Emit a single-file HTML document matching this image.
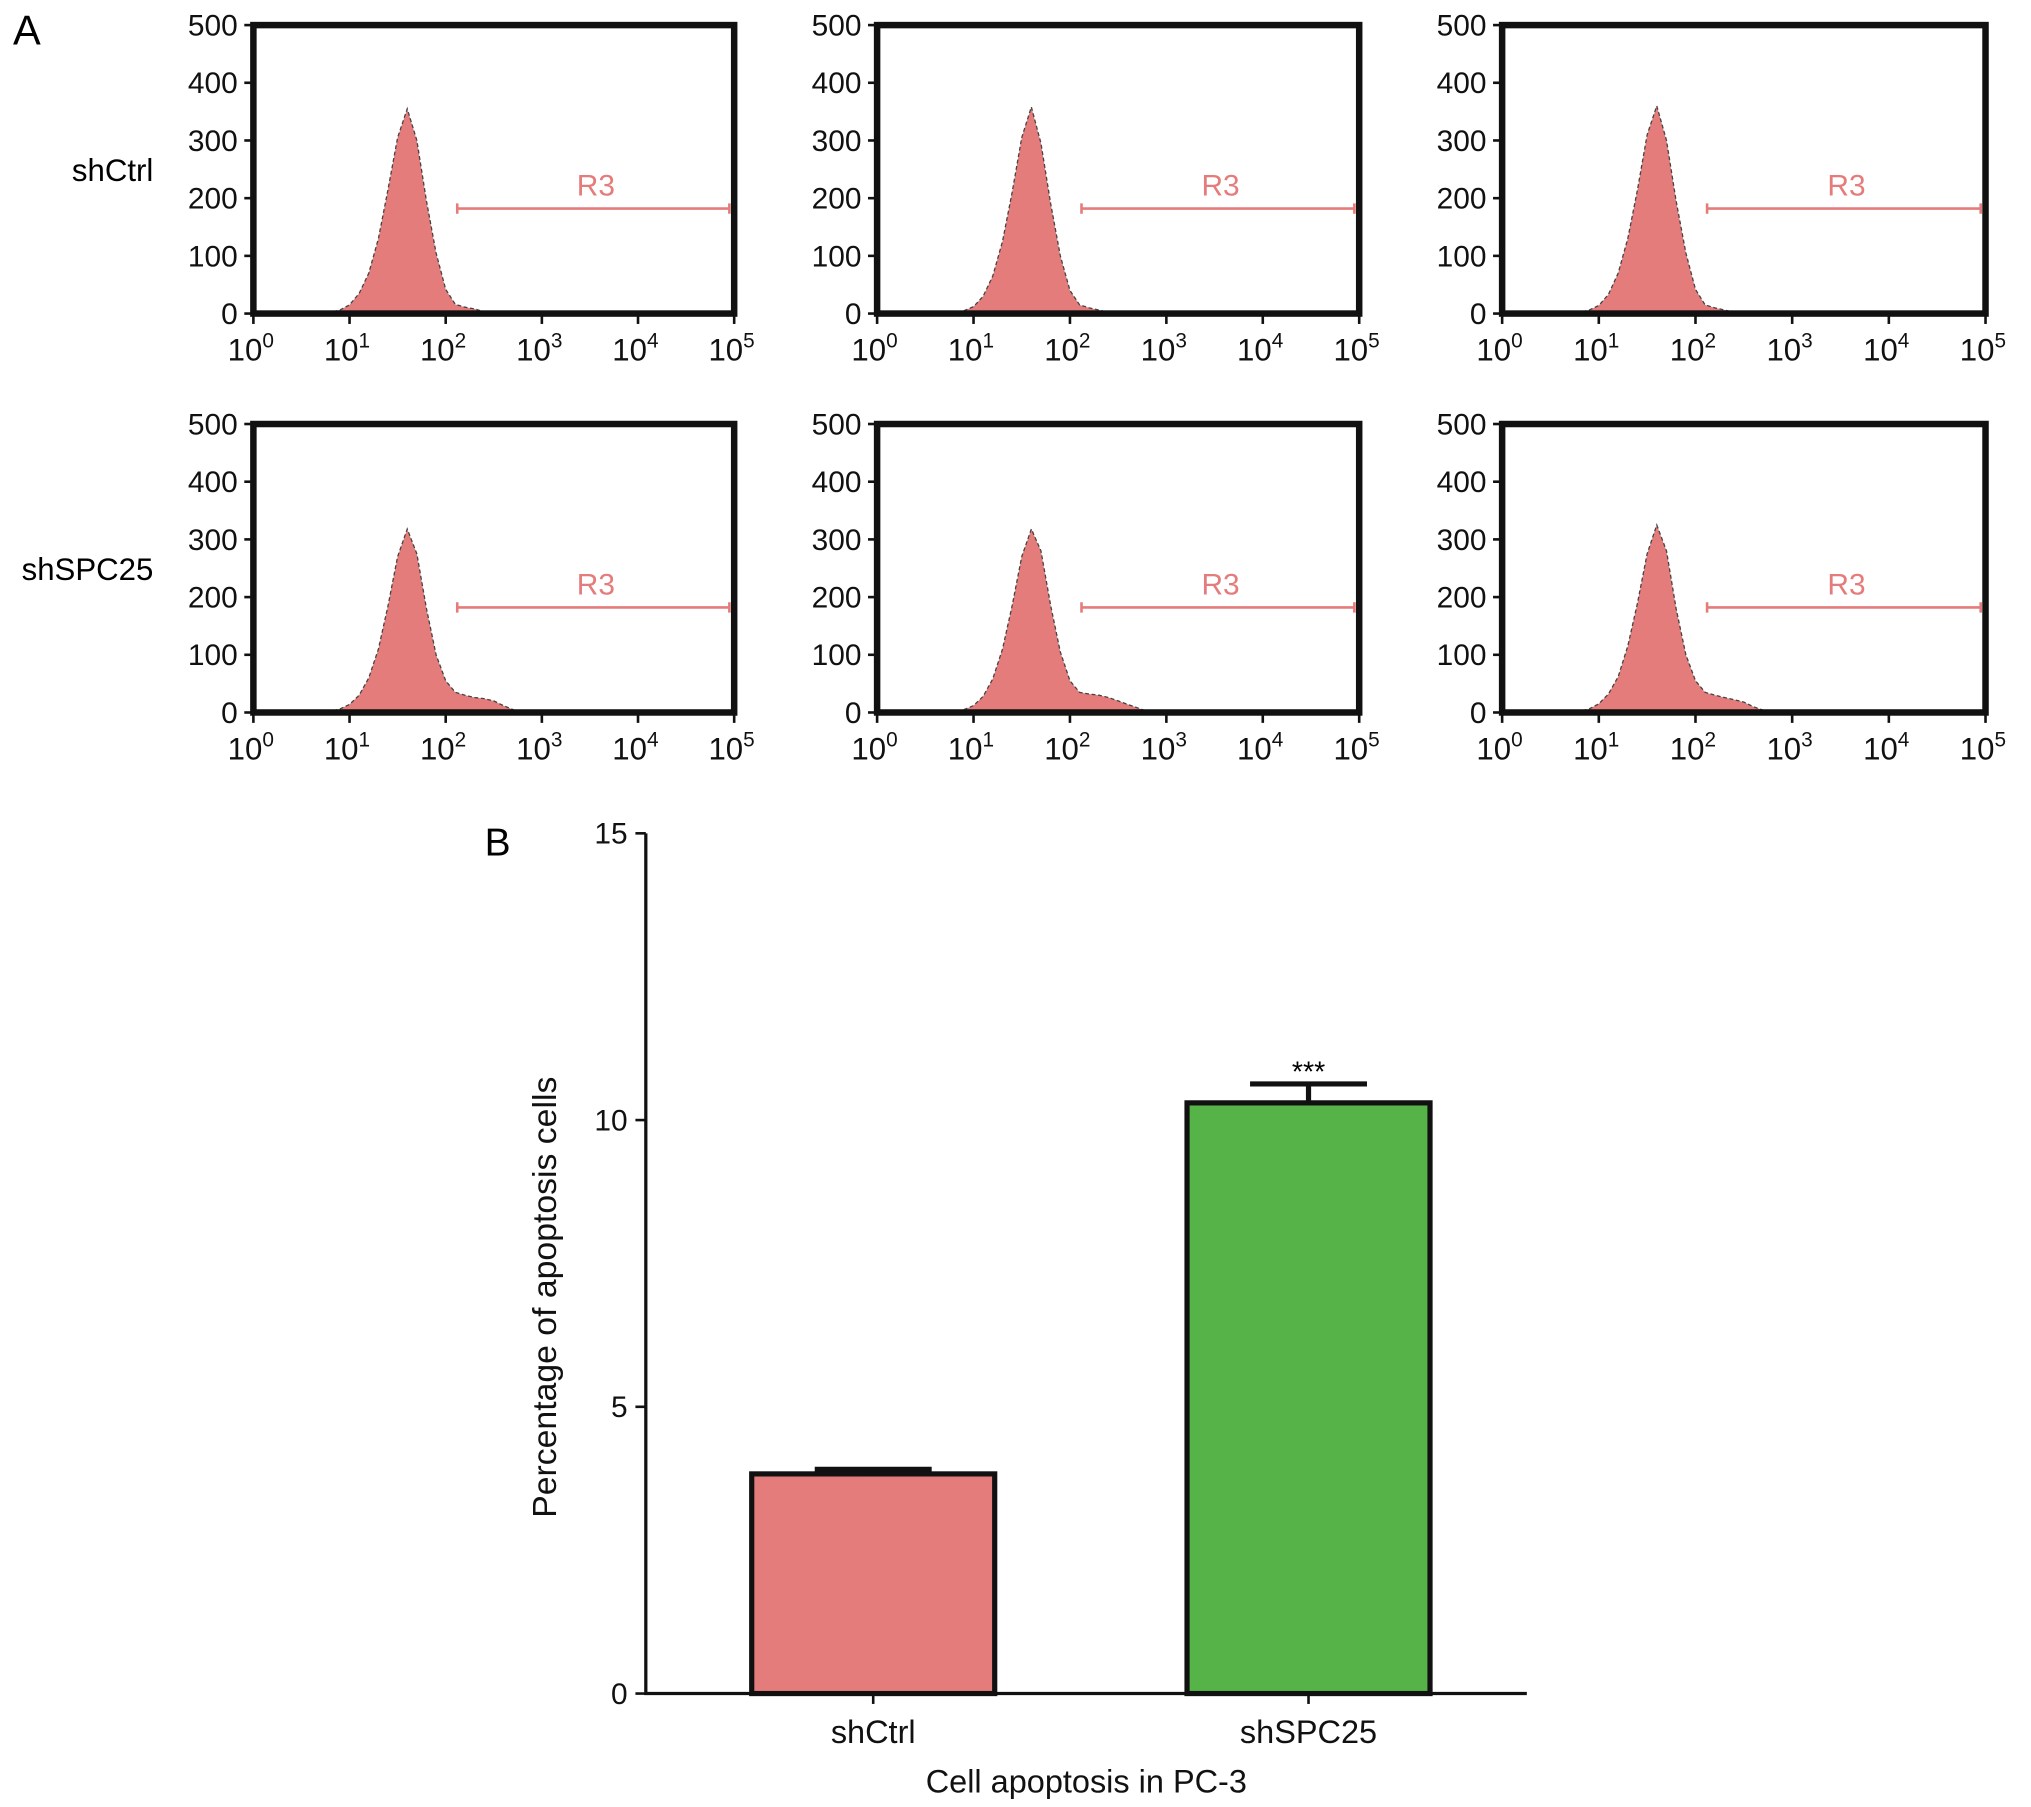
<!DOCTYPE html>
<html><head><meta charset="utf-8"><style>
html,body{margin:0;padding:0;background:#fff;}
svg{display:block;font-family:"Liberation Sans",Arial,sans-serif;}
</style></head><body>
<svg id="fig" width="2031" height="1807" viewBox="0 0 1563 1390" xmlns="http://www.w3.org/2000/svg">
<rect width="1563" height="1390" fill="#fff"/>
<text x="10" y="34" font-size="32">A</text>
<text x="118" y="139" font-size="24" text-anchor="end">shCtrl</text>
<text x="118" y="446" font-size="24" text-anchor="end">shSPC25</text>
<g id="hists"></g>
<g id="bars"></g>
</svg>
<script>
// histogram data: log10 intensity bins and counts
const histLogX = [0.7,0.8,0.9,1.0,1.1,1.2,1.3,1.4,1.5,1.6,1.7,1.8,1.9,2.0,2.1,2.2,2.3,2.4,2.5,2.6,2.7,2.8,2.9];
const histCtrl1 = [0,2,6,15,35,70,130,215,305,355,300,195,105,42,16,11,8,3,0,0,0,0,0];
const histCtrl2 = [0,2,5,12,30,65,125,210,305,358,295,190,100,40,15,10,6,2,0,0,0,0,0];
const histCtrl3 = [0,2,6,14,33,70,130,215,310,360,300,195,105,42,15,10,6,2,0,0,0,0,0];
const histSPC1 = [0,2,6,14,30,60,110,185,270,318,275,180,100,55,35,30,26,24,20,12,5,0,0];
const histSPC2 = [0,2,5,12,28,58,110,185,270,318,280,185,105,55,35,32,30,26,20,14,8,2,0];
const histSPC3 = [0,2,6,15,32,62,115,190,275,325,280,180,100,55,35,30,26,22,18,10,4,0,0];
const yTicks = [0,100,200,300,400,500];
const xTickExp = [0,1,2,3,4,5];
const gateStart = 2.12, gateEnd = 4.95, gateY = 182;

const panels = [
 {d:histCtrl1,x0:195,x1:565,y0:19,y1:241,n:'shctrl-1'},
 {d:histCtrl2,x0:675,x1:1046,y0:19,y1:241,n:'shctrl-2'},
 {d:histCtrl3,x0:1156,x1:1528,y0:19,y1:241,n:'shctrl-3'},
 {d:histSPC1,x0:195,x1:565,y0:326,y1:548,n:'shspc25-1'},
 {d:histSPC2,x0:675,x1:1046,y0:326,y1:548,n:'shspc25-2'},
 {d:histSPC3,x0:1156,x1:1528,y0:326,y1:548,n:'shspc25-3'}
];
const NS='http://www.w3.org/2000/svg';
function mk(tag,attrs,parent){const e=document.createElementNS(NS,tag);for(const k in attrs)e.setAttribute(k,attrs[k]);parent.appendChild(e);return e;}
const H=document.getElementById('hists');
panels.forEach(p=>{
  const g=mk('g',{},H);
  
  
  const sx=v=>p.x0+(v/5)*(p.x1-p.x0);
  const sy=v=>p.y1-(v/500)*(p.y1-p.y0);
  let dstr='M'+sx(histLogX[0])+','+sy(0);
  histLogX.forEach((lx,i)=>{dstr+=' L'+sx(lx).toFixed(1)+','+sy(p.d[i]).toFixed(1);});
  dstr+=' L'+sx(histLogX[histLogX.length-1])+','+sy(0)+' Z';
  const area=mk('path',{d:dstr,fill:'#e57c7c',stroke:'#444','stroke-width':1,'stroke-dasharray':'3,2'},g);
  
  
  const fr=mk('rect',{x:p.x0,y:p.y0,width:p.x1-p.x0,height:p.y1-p.y0,fill:'none',stroke:'#111','stroke-width':5},g);
  
  
  yTicks.forEach(t=>{
    mk('line',{x1:p.x0-7,x2:p.x0,y1:sy(t),y2:sy(t),stroke:'#111','stroke-width':2},g);
    const tx=mk('text',{x:p.x0-12,y:sy(t)+8,'font-size':23,'text-anchor':'end',fill:'#111'},g);
    tx.textContent=t;
    
    
  });
  xTickExp.forEach(e=>{
    mk('line',{x1:sx(e),x2:sx(e),y1:p.y1,y2:p.y1+8,stroke:'#111','stroke-width':2},g);
    const tx=mk('text',{x:sx(e)-2,y:p.y1+36,'font-size':24,'text-anchor':'middle',fill:'#111'},g);
    tx.innerHTML='10<tspan dy="-10" font-size="16">'+e+'</tspan>';
    
    
  });
  const gy=sy(gateY);
  const gl=mk('path',{d:`M${sx(gateStart)},${gy} H${sx(gateEnd)} M${sx(gateStart)},${gy-4} V${gy+4} M${sx(gateEnd)},${gy-4} V${gy+4}`,stroke:'#e57c7c','stroke-width':2,fill:'none'},g);
  
  
  const gt=mk('text',{x:(sx(gateStart)+sx(gateEnd))/2+2,y:gy-10,'font-size':23,'text-anchor':'middle',fill:'#e57c7c'},g);
  gt.textContent='R3';
  
  
});

// bar chart data
const barCats = ['shCtrl','shSPC25'];
const barVals = [3.83,10.3];
const barErr = [0.08,0.33];
const barColors = ['#e57c7c','#55b347'];
const barTicks = [0,5,10,15];
const B=document.getElementById('bars');
const bx0=497,bx1=1175,by0=1303,by1=641;
const ys=v=>by0-(v/15)*(by0-by1);
const xc=i=>672+i*335;
const bw=187;
let t=mk('text',{x:373,y:658,'font-size':30},B);t.textContent='B';


const ax=mk('path',{d:`M${bx0},${by1} V${by0} H${bx1}`,stroke:'#111','stroke-width':2.5,fill:'none'},B);


barTicks.forEach(v=>{
  mk('line',{x1:bx0-8,x2:bx0,y1:ys(v),y2:ys(v),stroke:'#111','stroke-width':2},B);
  const tx=mk('text',{x:bx0-14,y:ys(v)+8,'font-size':23,'text-anchor':'end',fill:'#111'},B);
  tx.textContent=v;
  
  
});
barCats.forEach((c,i)=>{
  const top=ys(barVals[i]);
  const r=mk('rect',{x:xc(i)-bw/2,y:top,width:bw,height:by0-top,fill:barColors[i],stroke:'#111','stroke-width':4},B);
  
  
  const et=ys(barVals[i]+barErr[i]);
  const e=mk('path',{d:`M${xc(i)},${top} V${et} M${xc(i)-45},${et} H${xc(i)+45}`,stroke:'#111','stroke-width':4,fill:'none'},B);
  
  
  mk('line',{x1:xc(i),x2:xc(i),y1:by0,y2:by0+8,stroke:'#111','stroke-width':2},B);
  const lb=mk('text',{x:xc(i),y:by0+38,'font-size':25,'text-anchor':'middle',fill:'#111'},B);
  lb.textContent=c;
  
  
});
t=mk('text',{x:xc(1),y:ys(barVals[1]+barErr[1])-2,'font-size':22,'text-anchor':'middle'},B);t.textContent='***';


t=mk('text',{x:836,y:1379,'font-size':25,'text-anchor':'middle',fill:'#111'},B);t.textContent='Cell apoptosis in PC-3';


t=mk('text',{x:0,y:0,'font-size':26,'text-anchor':'middle',fill:'#111',transform:'translate(428,998) rotate(-90)'},B);t.textContent='Percentage of apoptosis cells';


</script>
</body></html>
